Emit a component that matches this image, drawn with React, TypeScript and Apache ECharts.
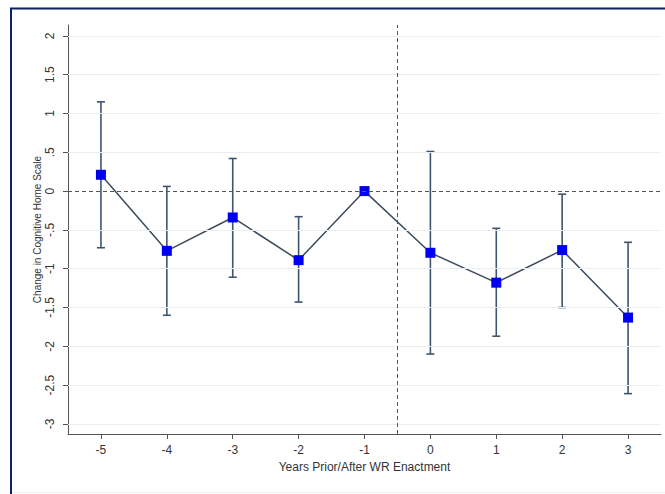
import React, { useEffect, useRef } from "react";
import * as echarts from "echarts";

const years = [-5, -4, -3, -2, -1, 0, 1, 2, 3];
const estimates = [0.21, -0.77, -0.34, -0.89, 0, -0.795, -1.18, -0.76, -1.63];
const upper = [1.15, 0.06, 0.42, -0.33, null, 0.51, -0.48, -0.04, -0.66];
const lower = [-0.73, -1.6, -1.11, -1.43, null, -2.1, -1.87, -1.5, -2.61];
const yTicks = [-3, -2.5, -2, -1.5, -1, -0.5, 0, 0.5, 1, 1.5, 2];
const xTicks = [-5, -4, -3, -2, -1, 0, 1, 2, 3];
const enactmentLine = -0.5;

const fmtY = (v: number) => {
  if (v === 0) return "0";
  const s = String(v);
  return s.replace(/^0\./, ".").replace(/^-0\./, "-.");
};

export default function App() {
  const ref = useRef<HTMLDivElement>(null);
  useEffect(() => {
    if (!ref.current) return;
    const chart = echarts.init(ref.current, undefined, { renderer: "svg" });
    const barData = years
      .map((x, i) => (upper[i] == null ? null : [x, lower[i], upper[i]]))
      .filter((d) => d != null);
    const font = "Liberation Sans, Arial, sans-serif";
    chart.setOption({
      animation: false,
      backgroundColor: "#ffffff",
      grid: { left: 68, top: 25, right: 4, bottom: 60, containLabel: false },
      xAxis: {
        type: "value",
        min: -5.5,
        max: 3.5,
        name: "Years Prior/After WR Enactment",
        nameLocation: "middle",
        nameGap: 27,
        nameMoveOverlap: false,
        nameTextStyle: { color: "#333", fontSize: 12, fontFamily: font },
        axisLine: { show: true, onZero: false, lineStyle: { color: "#555", width: 1 } },
        axisTick: { show: true, customValues: xTicks, length: 5, lineStyle: { color: "#555" } },
        axisLabel: {
          customValues: xTicks,
          color: "#333",
          fontSize: 12,
          fontFamily: font,
          margin: 10,
          formatter: (v: number) => String(v),
        },
        splitLine: { show: false },
      },
      yAxis: {
        type: "value",
        min: -3.13,
        max: 2.14,
        name: "Change in Cognitive Home Scale",
        nameLocation: "middle",
        nameGap: 26,
        nameMoveOverlap: false,
        nameTextStyle: { color: "#333", fontSize: 10, fontFamily: font },
        axisLine: { show: true, onZero: false, lineStyle: { color: "#555", width: 1 } },
        axisTick: { show: true, customValues: yTicks, length: 5, lineStyle: { color: "#555" } },
        axisLabel: {
          customValues: yTicks,
          rotate: 90,
          color: "#333",
          fontSize: 12,
          fontFamily: font,
          margin: 12,
          formatter: (v: number) => fmtY(v),
        },
        splitLine: { show: false },
      },
      graphic: [
        { type: "line", shape: { x1: 10, y1: 8.5, x2: 665, y2: 8.5 }, style: { stroke: "#0b2161", lineWidth: 2 } },
        { type: "line", shape: { x1: 11, y1: 8, x2: 11, y2: 494 }, style: { stroke: "#0b2161", lineWidth: 2 } },
        { type: "line", shape: { x1: 12, y1: 492.5, x2: 665, y2: 492.5 }, style: { stroke: "#efefef", lineWidth: 1 } },
      ],
      series: [
        {
          type: "line",
          data: [],
          silent: true,
          markLine: {
            silent: true,
            symbol: "none",
            label: { show: false },
            lineStyle: { color: "#ebedf0", width: 1, type: "solid" },
            data: yTicks.filter((t) => t !== 0).map((t) => ({ yAxis: t })),
          },
        },
        {
          type: "line",
          data: [],
          silent: true,
          markLine: {
            silent: true,
            symbol: "none",
            label: { show: false },
            lineStyle: { color: "#555", width: 1, type: [4, 3] },
            data: [{ yAxis: 0 }, { xAxis: enactmentLine }],
          },
        },
        {
          type: "custom",
          data: barData,
          renderItem: (params: any, api: any) => {
            const x = api.value(0);
            const lo = api.coord([x, api.value(1)]);
            const hi = api.coord([x, api.value(2)]);
            const cap = 4;
            const style = { stroke: "#3e556e", lineWidth: 1.6 };
            return {
              type: "group",
              children: [
                { type: "line", shape: { x1: lo[0], y1: lo[1], x2: hi[0], y2: hi[1] }, style },
                { type: "line", shape: { x1: lo[0] - cap, y1: lo[1], x2: lo[0] + cap, y2: lo[1] }, style },
                { type: "line", shape: { x1: hi[0] - cap, y1: hi[1], x2: hi[0] + cap, y2: hi[1] }, style },
              ],
            };
          },
          z: 3,
        },
        {
          type: "line",
          data: years.map((x, i) => [x, estimates[i]]),
          symbol: "rect",
          symbolSize: 10,
          showSymbol: true,
          itemStyle: { color: "#0000f0" },
          lineStyle: { color: "#3d4b5c", width: 1.5 },
          z: 4,
        },
      ],
    });
    return () => chart.dispose();
  }, []);
  return (
    <div
      ref={ref}
      style={{ position: "fixed", left: 0, top: 0, width: 665, height: 494, background: "#fff" }}
    />
  );
}
